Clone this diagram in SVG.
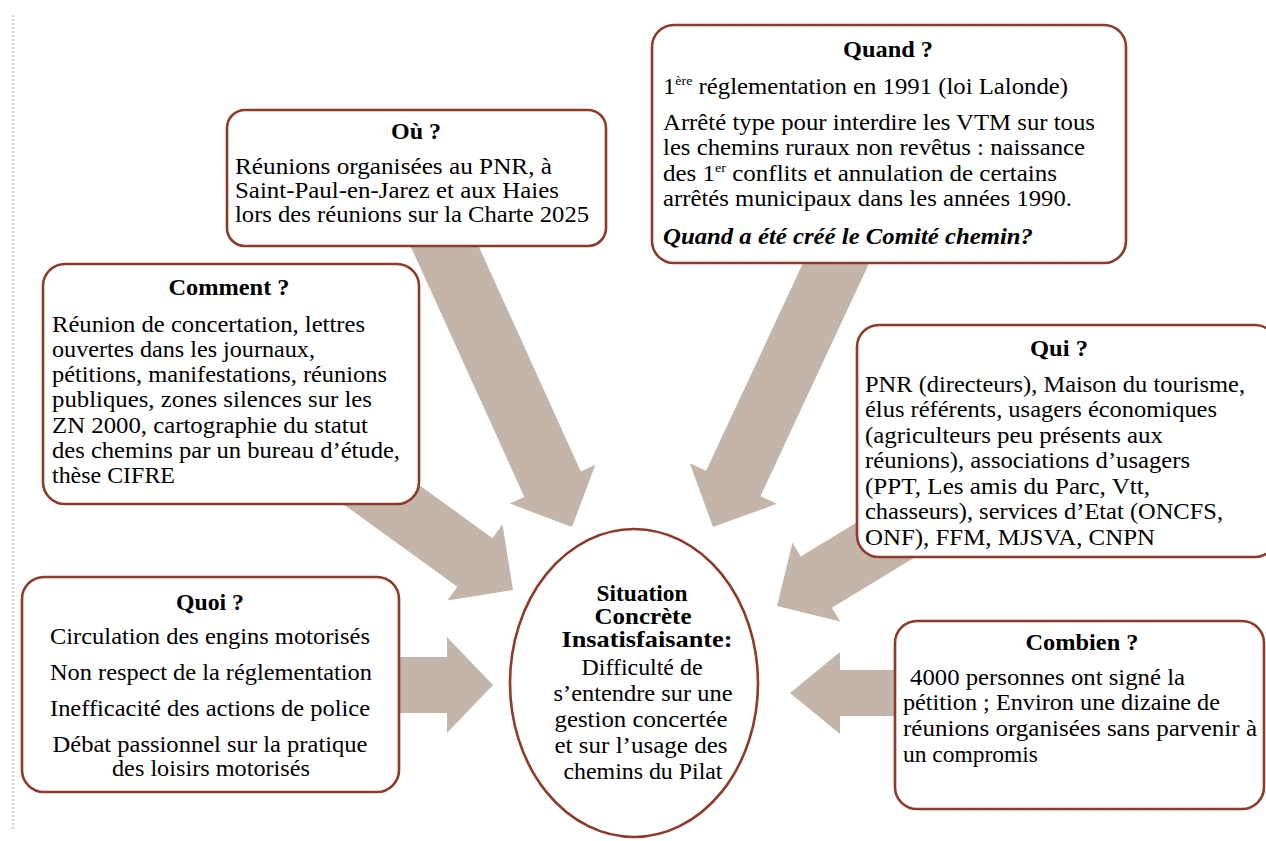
<svg xmlns="http://www.w3.org/2000/svg" width="1266" height="841" viewBox="0 0 1266 841">
<style>
.box{fill:#fff;stroke:#8E3B2C;stroke-width:2.6}
.arr{fill:#C4B5AA}
text{font-family:"Liberation Serif","Times New Roman",serif;font-size:23px;fill:#000}
.sup{font-size:13px}
.b{font-weight:bold}
.c{text-anchor:middle}
.bi{font-weight:bold;font-style:italic}
</style>
<rect width="1266" height="841" fill="#fff"/>
<line x1="13" y1="15" x2="13" y2="830" stroke="#dcdcdc" stroke-width="3" stroke-dasharray="2 2"/>
<g id="connectors">
  <polygon class="arr" transform="translate(493,685)" points="-100,-28 -46,-28 -46,-48 0,0 -46,48 -46,28 -100,28"/>
  <polygon class="arr" transform="translate(790,693) rotate(180)" points="-110,-23 -50,-23 -50,-41 0,0 -50,41 -50,23 -110,23"/>
  <polygon class="arr" transform="translate(777,606) rotate(148.7)" points="-150,-30 -46,-30 -46,-46 0,0 -46,46 -46,30 -150,30"/>
  <polygon class="arr" transform="translate(572,527) rotate(65.6)" points="-335,-31 -47,-31 -47,-47 0,0 -47,47 -47,31 -335,31"/>
  <polygon class="arr" transform="translate(713,527) rotate(115)" points="-320,-30 -48,-30 -48,-48 0,0 -48,48 -48,30 -320,30"/>
  <polygon class="arr" transform="translate(513,590) rotate(35.9)" points="-200,-30 -47,-30 -47,-47 0,0 -47,47 -47,30 -200,30"/>
</g>
<g id="ou">
  <rect class="box" x="227" y="110" width="379" height="136" rx="18"/>
  <text class="b c" x="416" y="139" textLength="50" lengthAdjust="spacingAndGlyphs">Où ?</text>
  <text x="235" y="174" textLength="317" lengthAdjust="spacingAndGlyphs">Réunions organisées au PNR, à</text>
  <text x="235" y="198" textLength="324" lengthAdjust="spacingAndGlyphs">Saint-Paul-en-Jarez et aux Haies</text>
  <text x="235" y="222" textLength="354" lengthAdjust="spacingAndGlyphs">lors des réunions sur la Charte 2025</text>
</g>
<g id="quand">
  <rect class="box" x="652" y="25" width="474" height="238" rx="22"/>
  <text class="b c" x="888" y="57" textLength="90" lengthAdjust="spacingAndGlyphs">Quand ?</text>
  <text x="663" y="94" textLength="405" lengthAdjust="spacingAndGlyphs">1<tspan class="sup" dy="-9">ère</tspan><tspan dy="9"> réglementation en 1991 (loi Lalonde)</tspan></text>
  <text x="663" y="130" textLength="432" lengthAdjust="spacingAndGlyphs">Arrêté type pour interdire les VTM sur tous</text>
  <text x="663" y="155" textLength="422" lengthAdjust="spacingAndGlyphs">les chemins ruraux non revêtus : naissance</text>
  <text x="663" y="181" textLength="394" lengthAdjust="spacingAndGlyphs">des 1<tspan class="sup" dy="-9">er</tspan><tspan dy="9"> conflits et annulation de certains</tspan></text>
  <text x="663" y="206" textLength="409" lengthAdjust="spacingAndGlyphs">arrêtés municipaux dans les années 1990.</text>
  <text class="bi" x="663" y="244" textLength="370" lengthAdjust="spacingAndGlyphs">Quand a été créé le Comité chemin?</text>
</g>
<g id="comment">
  <rect class="box" x="43" y="264" width="376" height="240" rx="22"/>
  <text class="b c" x="229" y="295" textLength="121" lengthAdjust="spacingAndGlyphs">Comment ?</text>
  <text x="52" y="332" textLength="313" lengthAdjust="spacingAndGlyphs">Réunion de concertation, lettres</text>
  <text x="52" y="357" textLength="263" lengthAdjust="spacingAndGlyphs">ouvertes dans les journaux,</text>
  <text x="52" y="382" textLength="335" lengthAdjust="spacingAndGlyphs">pétitions, manifestations, réunions</text>
  <text x="52" y="407" textLength="320" lengthAdjust="spacingAndGlyphs">publiques, zones silences sur les</text>
  <text x="52" y="433" textLength="316" lengthAdjust="spacingAndGlyphs">ZN 2000, cartographie du statut</text>
  <text x="52" y="458" textLength="348" lengthAdjust="spacingAndGlyphs">des chemins par un bureau d’étude,</text>
  <text x="52" y="483" textLength="123" lengthAdjust="spacingAndGlyphs">thèse CIFRE</text>
</g>
<g id="qui">
  <rect class="box" x="857" y="325" width="420" height="232" rx="22"/>
  <text class="b c" x="1059" y="356" textLength="58" lengthAdjust="spacingAndGlyphs">Qui ?</text>
  <text x="865" y="392" textLength="380" lengthAdjust="spacingAndGlyphs">PNR (directeurs), Maison du tourisme,</text>
  <text x="865" y="417" textLength="352" lengthAdjust="spacingAndGlyphs">élus référents, usagers économiques</text>
  <text x="865" y="443" textLength="298" lengthAdjust="spacingAndGlyphs">(agriculteurs peu présents aux</text>
  <text x="865" y="468" textLength="325" lengthAdjust="spacingAndGlyphs">réunions), associations d’usagers</text>
  <text x="865" y="494" textLength="285" lengthAdjust="spacingAndGlyphs">(PPT, Les amis du Parc, Vtt,</text>
  <text x="865" y="519" textLength="358" lengthAdjust="spacingAndGlyphs">chasseurs), services d’Etat (ONCFS,</text>
  <text x="865" y="545" textLength="290" lengthAdjust="spacingAndGlyphs">ONF), FFM, MJSVA, CNPN</text>
</g>
<g id="quoi">
  <rect class="box" x="22" y="577" width="377" height="215" rx="22"/>
  <text class="b c" x="210" y="610" textLength="68" lengthAdjust="spacingAndGlyphs">Quoi ?</text>
  <text class="c" x="210" y="644" textLength="320" lengthAdjust="spacingAndGlyphs">Circulation des engins motorisés</text>
  <text class="c" x="211" y="680" textLength="322" lengthAdjust="spacingAndGlyphs">Non respect de la réglementation</text>
  <text class="c" x="210" y="716" textLength="320" lengthAdjust="spacingAndGlyphs">Inefficacité des actions de police</text>
  <text class="c" x="210" y="752" textLength="315" lengthAdjust="spacingAndGlyphs">Débat passionnel sur la pratique</text>
  <text class="c" x="211" y="776" textLength="198" lengthAdjust="spacingAndGlyphs">des loisirs motorisés</text>
</g>
<g id="centre">
  <ellipse class="box" cx="634" cy="683" rx="124" ry="154"/>
  <text class="b c" x="642" y="601" textLength="91" lengthAdjust="spacingAndGlyphs">Situation</text>
  <text class="b c" x="643" y="624" textLength="97" lengthAdjust="spacingAndGlyphs">Concrète</text>
  <text class="b c" x="647" y="647" textLength="171" lengthAdjust="spacingAndGlyphs">Insatisfaisante:</text>
  <text class="c" x="642" y="675" textLength="121" lengthAdjust="spacingAndGlyphs">Difficulté de</text>
  <text class="c" x="643" y="701" textLength="179" lengthAdjust="spacingAndGlyphs">s’entendre sur une</text>
  <text class="c" x="641" y="727" textLength="173" lengthAdjust="spacingAndGlyphs">gestion concertée</text>
  <text class="c" x="641" y="753" textLength="173" lengthAdjust="spacingAndGlyphs">et sur l’usage des</text>
  <text class="c" x="643" y="779" textLength="159" lengthAdjust="spacingAndGlyphs">chemins du Pilat</text>
</g>
<g id="combien">
  <rect class="box" x="895" y="621" width="369" height="188" rx="22"/>
  <text class="b c" x="1082" y="650" textLength="113" lengthAdjust="spacingAndGlyphs">Combien ?</text>
  <text x="910" y="685" textLength="275" lengthAdjust="spacingAndGlyphs">4000 personnes ont signé la</text>
  <text x="903" y="710" textLength="317" lengthAdjust="spacingAndGlyphs">pétition ; Environ une dizaine de</text>
  <text x="903" y="736" textLength="354" lengthAdjust="spacingAndGlyphs">réunions organisées sans parvenir à</text>
  <text x="903" y="762" textLength="135" lengthAdjust="spacingAndGlyphs">un compromis</text>
</g>
</svg>
